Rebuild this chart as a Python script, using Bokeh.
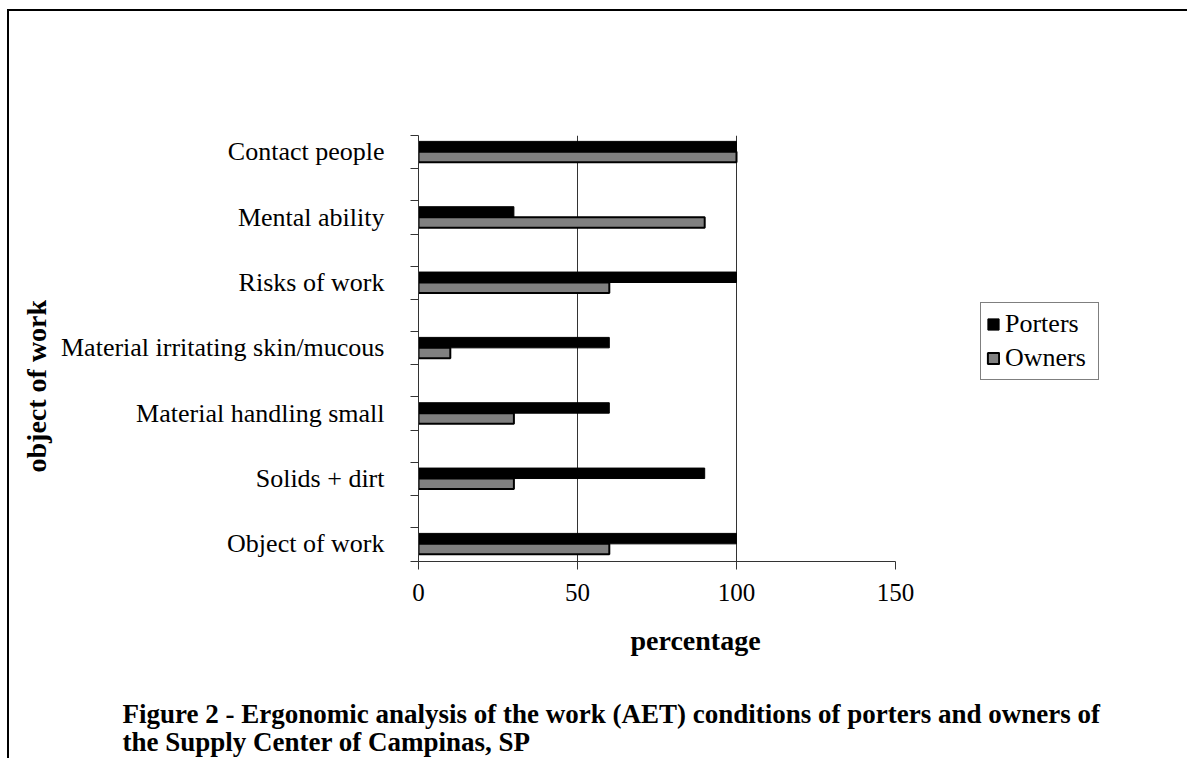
import numpy as np
from bokeh.plotting import figure
from bokeh.models import (Range1d, FixedTicker, Legend, LegendItem,
                          ColumnDataSource, Title)
from bokeh.transform import dodge
from bokeh.embed import file_html
from bokeh.resources import INLINE

# ---- data ----
categories = ["Object of work", "Solids + dirt", "Material handling small",
              "Material irritating skin/mucous", "Risks of work",
              "Mental ability", "Contact people"]
porters = [100, 90, 60, 60, 100, 30, 100]
owners = [60, 30, 30, 10, 60, 90, 100]
x_ticks = [0, 50, 100, 150]
series_names = ["Porters", "Owners"]
x_title = "percentage"
y_title = "object of work"
caption_1 = "Figure 2  - Ergonomic analysis of the work (AET) conditions of porters and owners of"
caption_2 = "the Supply Center of Campinas, SP"

FONT = "Liberation Serif"
AX = "#333333"

# frame spans 418..1167 px; the axis (0..150) covers 418..895 px
X_MAX = 150 * (1167 - 418) / (895 - 418)

pos = list(range(len(categories)))
src = ColumnDataSource(dict(y=pos, porters=porters, owners=owners))

p = figure(width=1187, height=758, output_backend="svg", toolbar_location=None,
           x_range=Range1d(0, X_MAX), y_range=Range1d(-0.27, 6.25),
           min_border_left=418, min_border_right=20,
           min_border_top=135, min_border_bottom=197)
p.outline_line_color = None
p.background_fill_color = None
p.border_fill_color = None
p.styles = {"background": "linear-gradient(#000, #000) 7px 9px / 2px 800px no-repeat, "
                          "linear-gradient(#000, #000) 7px 9px / 1190px 2px no-repeat, white"}

rp = p.hbar(y=dodge('y', 0.08, range=p.y_range), right='porters', height=0.16,
            fill_color='black', line_color='black', line_width=1, source=src)
ro = p.hbar(y=dodge('y', -0.08, range=p.y_range), right='owners', height=0.16,
            fill_color='#808080', line_color='black', line_width=2, source=src)

# x axis
p.xaxis.ticker = FixedTicker(ticks=x_ticks)
p.xaxis.bounds = (0, 150)
p.xaxis.axis_line_color = AX
p.xaxis.major_tick_line_color = AX
p.xaxis.major_tick_out = 8
p.xaxis.major_tick_in = 0
p.xaxis.minor_tick_line_color = None
p.xaxis.major_label_text_font = FONT
p.xaxis.major_label_text_font_size = "25px"
p.xaxis.major_label_text_color = "black"
p.xaxis.major_label_standoff = 14
p.xgrid.ticker = FixedTicker(ticks=[50, 100])
p.xgrid.grid_line_color = AX
p.xgrid.grid_line_width = 1
p.ygrid.grid_line_color = None

# y axis
p.yaxis.ticker = FixedTicker(ticks=pos,
                             minor_ticks=[-0.27, 0.25, 0.74, 1.25, 1.74, 2.25, 2.74,
                                          3.25, 3.74, 4.25, 4.74, 5.25, 5.74, 6.25])
p.yaxis.major_label_overrides = {i: c for i, c in enumerate(categories)}
p.yaxis.axis_line_color = AX
p.yaxis.major_tick_line_color = None
p.yaxis.major_tick_out = 8
p.yaxis.major_tick_in = 0
p.yaxis.minor_tick_line_color = AX
p.yaxis.minor_tick_out = 8
p.yaxis.minor_tick_in = 0
p.yaxis.major_label_text_font = FONT
p.yaxis.major_label_text_font_size = "26px"
p.yaxis.major_label_text_color = "black"
p.yaxis.major_label_standoff = 26

# legend (inside the wide frame, right of the axis end)
legend = Legend(items=[LegendItem(label=series_names[0], renderers=[rp]),
                       LegendItem(label=series_names[1], renderers=[ro])],
                location=(562, 181), orientation="vertical")
legend.label_text_font = FONT
legend.label_text_font_size = "26px"
legend.label_text_color = "black"
legend.glyph_width = 14
legend.glyph_height = 14
legend.label_standoff = 5
legend.label_height = 32
legend.label_width = 88
legend.padding = 5
legend.spacing = 2
legend.margin = 0
legend.border_line_color = "black"
legend.border_line_width = 1
legend.background_fill_color = "white"
legend.background_fill_alpha = 1
p.add_layout(legend)

# axis titles and caption
p.add_layout(Title(text=y_title, align="left", offset=89, standoff=14,
                   text_font=FONT, text_font_style="bold", text_font_size="28px",
                   text_color="black"), "left")
p.add_layout(Title(text=x_title, align="left", offset=212, standoff=38,
                   text_font=FONT, text_font_style="bold", text_font_size="28px",
                   text_color="black"), "below")
p.add_layout(Title(text=caption_1, align="left", offset=-296, standoff=45,
                   text_font=FONT, text_font_style="bold", text_font_size="27px",
                   text_color="black"), "below")
p.add_layout(Title(text=caption_2, align="left", offset=-296, standoff=-49,
                   vertical_align="top",
                   text_font=FONT, text_font_style="bold", text_font_size="27px",
                   text_color="black"), "below")

open("out.html", "w").write(file_html(p, INLINE))
